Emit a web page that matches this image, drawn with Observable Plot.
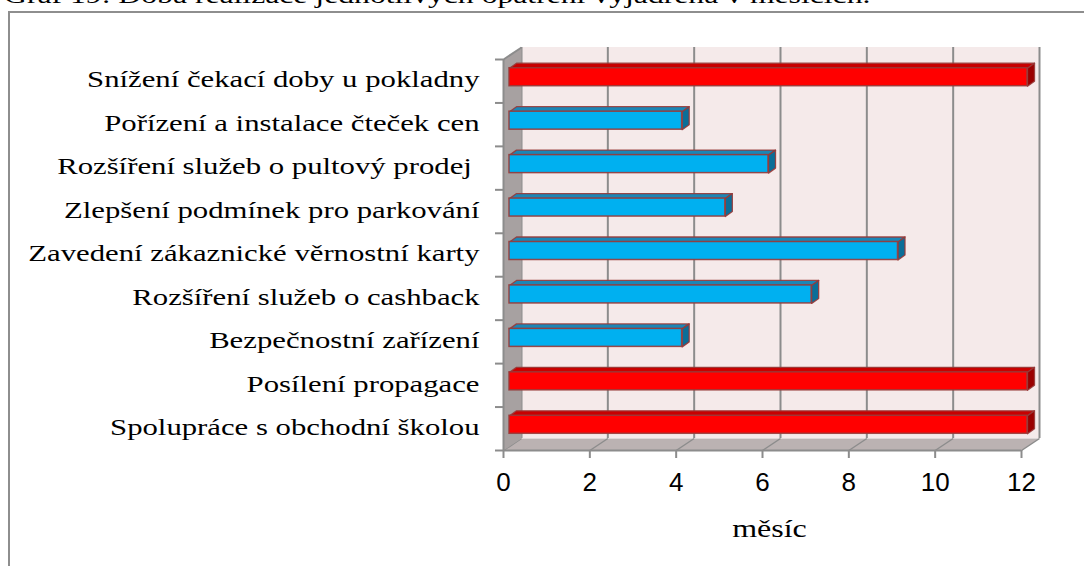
<!DOCTYPE html>
<html><head><meta charset="utf-8">
<script src="https://cdn.jsdelivr.net/npm/d3@7"></script>
<script src="https://cdn.jsdelivr.net/npm/@observablehq/plot@0.6"></script>
<style>
html,body{margin:0;padding:0;background:#fff;overflow:hidden;}
#wrap{position:relative;width:1084px;height:566px;overflow:hidden;}
#frame{position:absolute;left:8px;top:11px;width:1200px;height:700px;border:2px solid #8e8e8e;box-sizing:border-box;}
#title{position:absolute;left:4px;top:-17px;font-family:"Liberation Serif",serif;font-size:24px;line-height:24px;white-space:nowrap;transform-origin:0 0;transform:scaleX(1.32);color:#000;}
#chart{position:absolute;left:0;top:0;}
</style></head><body>
<div id="wrap"><div id="title"></div><div id="frame"></div><div id="chart"></div></div>
<script>
const title = "Graf 19: Doba realizace jednotlivých opatření vyjádřena v měsících.";
const categories = [
  "Snížení čekací doby u pokladny",
  "Pořízení a instalace čteček cen",
  "Rozšíření služeb o pultový prodej\u00a0",
  "Zlepšení podmínek pro parkování",
  "Zavedení zákaznické věrnostní karty",
  "Rozšíření služeb o cashback",
  "Bezpečnostní zařízení",
  "Posílení propagace",
  "Spolupráce s obchodní školou"
];
const months = [12, 4, 6, 5, 9, 7, 4, 12, 12];
const xTicks = [0, 2, 4, 6, 8, 10, 12];
const xLabel = "měsíc";

document.getElementById("title").textContent = title;

// layout
const W = 1084, H = 566, mL = 503, mR = 63, mT = 59, mB = 116;
const xMax = xTicks[xTicks.length - 1];
const n = categories.length;
const ux = (W - mL - mR) / xMax, uy = (H - mT - mB) / n;
const px = p => p / ux, py = p => p / uy;
const yTop = -0.5, yBot = n - 0.5;
const wallDx = 18, wallDy = -12;
const barDx = 6, barDy = -4, barH = py(18), depX = px(7), depY = py(-5);
const wX = px(wallDx), wY = py(wallDy);

const RED = {front: "#ff0000", top: "#c80000", side: "#9a0000"};
const BLUE = {front: "#00b0f0", top: "#1b86b6", side: "#0b6e98"};

const rows = categories.map((c, i) => ({c, i, v: months[i], red: months[i] === xMax}));

// 3D faces of bars
const faces = [];
rows.forEach(r => {
  const t = r.i - barH / 2, b = r.i + barH / 2;
  [[0, t], [r.v, t], [r.v + depX, t + depY], [depX, t + depY]]
    .forEach(([x, y]) => faces.push({id: "t" + r.i, face: "top", red: r.red, x, y}));
  [[r.v, t], [r.v, b], [r.v + depX, b + depY], [r.v + depX, t + depY]]
    .forEach(([x, y]) => faces.push({id: "s" + r.i, face: "side", red: r.red, x, y}));
});

// walls
const walls = [];
[[0, yBot], [xMax, yBot], [xMax + wX, yBot + wY], [wX, yBot + wY]]
  .forEach(([x, y]) => walls.push({id: "floor", x, y}));
[[0, yTop], [0, yBot], [wX, yBot + wY], [wX, yTop + wY]]
  .forEach(([x, y]) => walls.push({id: "left", x, y}));

const edge = "#973a38";
const grid = "#8c8c8c";

const faceMarks = [];
for (const red of [true, false]) {
  const pal = red ? RED : BLUE;
  for (const f of ["top", "side"]) {
    faceMarks.push(Plot.line(faces, {
      filter: d => d.red === red && d.face === f,
      x: "x", y: "y", z: "id", curve: "linear-closed",
      fill: pal[f], stroke: edge, strokeWidth: 1.3, strokeOpacity: 0.9,
      dx: barDx, dy: barDy
    }));
  }
  faceMarks.push(Plot.rect(rows.filter(r => r.red === red), {
    x1: 0, x2: "v", y1: d => d.i - barH / 2, y2: d => d.i + barH / 2,
    fill: pal.front, stroke: edge, strokeWidth: 1.5, strokeOpacity: 0.9,
    dx: barDx, dy: barDy
  }));
}

const chart = Plot.plot({
  width: W, height: H,
  marginLeft: mL, marginRight: mR, marginTop: mT, marginBottom: mB,
  x: {domain: [0, xMax]},
  y: {domain: [yTop, yBot], reverse: true},
  style: {background: "transparent", overflow: "visible", color: "#000"},
  marks: [
    // back wall
    Plot.rect([0], {x1: 0, x2: xMax, y1: yTop, y2: yBot, fill: "#f5eaea", dx: wallDx, dy: wallDy}),
    Plot.ruleX(xTicks, {y1: yTop, y2: yBot, stroke: grid, strokeWidth: 2, dx: wallDx, dy: wallDy}),
    // floor and left wall
    Plot.line(walls, {filter: d => d.id === "floor", x: "x", y: "y", z: "id", curve: "linear-closed", fill: "#bbb2b2", stroke: "none"}),
    Plot.link(xTicks, {x1: d => d, y1: yBot, x2: d => d + wX, y2: yBot + wY, stroke: grid, strokeWidth: 1.5}),
    Plot.line(walls, {filter: d => d.id === "left", x: "x", y: "y", z: "id", curve: "linear-closed", fill: "#a7a1a1", stroke: "none"}),
    Plot.link([0], {x1: 0, y1: yTop, x2: wX, y2: yTop + wY, stroke: grid, strokeWidth: 2}),
    Plot.ruleX([0], {y1: yTop, y2: yBot, stroke: grid, strokeWidth: 2}),
    Plot.ruleY([yBot], {stroke: grid, strokeWidth: 2}),
    // axes
    Plot.axisY({ticks: d3.range(n + 1).map(k => k - 0.5), tickSize: 8, tickFormat: () => "", stroke: grid, strokeWidth: 2, label: null}),
    Plot.axisY({ticks: d3.range(n), tickSize: 0, tickPadding: 24, tickFormat: i => categories[i],
      fontSize: 24, fontFamily: "Liberation Serif", dy: -1.5, label: null}),
    Plot.axisX({ticks: xTicks, tickSize: 8, tickPadding: 14, fontSize: 26, fontFamily: "Liberation Sans",
      stroke: grid, strokeWidth: 2, label: null}),
    Plot.text([xLabel], {text: d => d, frameAnchor: "bottom", dx: 7, dy: 78, lineAnchor: "middle",
      fontSize: 25, fontFamily: "Liberation Serif"}),
    // bars
    ...faceMarks
  ]
});
document.getElementById("chart").appendChild(chart);

// horizontal stretch of serif text, as in the reference
function stretch(nodes, k) {
  nodes.forEach(t => {
    const w = t.getComputedTextLength();
    if (w > 0) { t.setAttribute("textLength", w * k); t.setAttribute("lengthAdjust", "spacingAndGlyphs"); }
  });
}
const serif = [...chart.querySelectorAll("text")].filter(t => (t.getAttribute("font-family") || t.closest("[font-family]")?.getAttribute("font-family") || "").includes("Serif"));
stretch(serif, 1.28);
</script>
</body></html>
